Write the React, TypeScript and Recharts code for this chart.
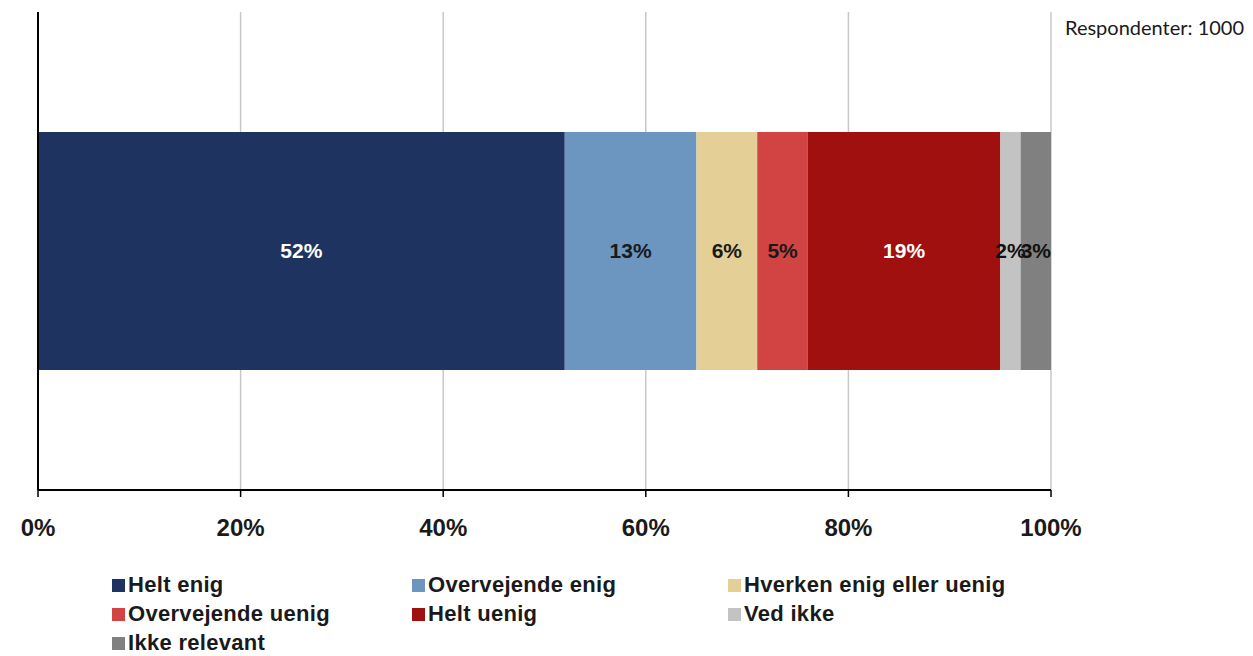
import React from "react";
import { BarChart, Bar, XAxis, YAxis, CartesianGrid, LabelList, ReferenceLine } from "recharts";

const categories = ["Svar"];
const seriesNames = [
  "Helt enig",
  "Overvejende enig",
  "Hverken enig eller uenig",
  "Overvejende uenig",
  "Helt uenig",
  "Ved ikke",
  "Ikke relevant",
];
const seriesValues = [52, 13, 6, 5, 19, 2, 3];
const xTicks = [0, 20, 40, 60, 80, 100];
const respondents = 1000;

const seriesColors = ["#1f3360", "#6c95c0", "#e4d096", "#d24343", "#a0100e", "#c3c3c3", "#808080"];
const labelColors = ["#ffffff", "#1a1a1a", "#1a1a1a", "#1a1a1a", "#ffffff", "#111111", "#111111"];

const data = categories.map((name) => {
  const row: Record<string, string | number> = { name };
  seriesNames.forEach((s, i) => (row[s] = seriesValues[i]));
  return row;
});

const FONT = "'Liberation Sans', Arial, sans-serif";

const XTick = (props: any) => {
  const { x, y, payload } = props;
  return (
    <text
      x={x}
      y={y + 37}
      textAnchor="middle"
      fontFamily={FONT}
      fontWeight="bold"
      fontSize={24}
      fill="#1a1a1a"
    >
      {payload.value}%
    </text>
  );
};

// grid lines at every tick except 0, where the black axis sits
const gridX = ({ xAxis, offset }: any) =>
  xTicks.slice(1).map((t) =>
    xAxis && typeof xAxis.scale === "function" ? xAxis.scale(t) : offset.left + (offset.width * t) / 100
  );

export default function App() {
  return (
    <div style={{ position: "absolute", left: 0, top: 0, width: 1253, height: 656, background: "#fff" }}>
      <BarChart
        width={1253}
        height={656}
        layout="vertical"
        data={data}
        margin={{ top: 12, right: 202, left: 38, bottom: 126 }}
      >
        <CartesianGrid
          horizontal={false}
          stroke="#c8c8c8"
          strokeWidth={1.5}
          verticalCoordinatesGenerator={gridX}
        />
        <XAxis
          type="number"
          domain={[0, 100]}
          ticks={xTicks}
          height={40}
          interval={0}
          axisLine={{ stroke: "#000", strokeWidth: 2 }}
          tickLine={{ stroke: "#000", strokeWidth: 1.5 }}
          tickSize={7}
          tick={<XTick />}
        />
        <YAxis type="category" dataKey="name" width={0} hide />
        {seriesNames.map((s, i) => (
          <Bar key={s} dataKey={s} stackId="a" fill={seriesColors[i]} barSize={238} isAnimationActive={false}>
            <LabelList
              dataKey={s}
              position="center"
              formatter={(v: any) => `${v}%`}
              fill={labelColors[i]}
              fontSize={21}
              fontWeight="bold"
              fontFamily={FONT}
            />
          </Bar>
        ))}
        <ReferenceLine x={0} stroke="#000" strokeWidth={2} />
      </BarChart>
      <div
        style={{
          position: "absolute",
          left: 1065,
          top: 15,
          fontFamily: "Lato, sans-serif",
          fontSize: 20,
          color: "#1a1a1a",
          whiteSpace: "nowrap",
        }}
      >
        Respondenter: {respondents}
      </div>
      <div
        style={{
          position: "absolute",
          left: 112,
          top: 572,
          display: "grid",
          gridTemplateColumns: "300px 316px 320px",
          rowGap: 3,
          fontFamily: FONT,
          fontWeight: "bold",
          fontSize: 22,
          color: "#1a1a1a",
        }}
      >
        {seriesNames.map((s, i) => (
          <div key={s} style={{ display: "flex", alignItems: "center", height: 26, whiteSpace: "nowrap" }}>
            <span
              style={{
                display: "inline-block",
                width: 13,
                height: 13,
                background: seriesColors[i],
                marginRight: 3,
              }}
            />
            <span style={{ letterSpacing: 0.3 }}>{s}</span>
          </div>
        ))}
      </div>
    </div>
  );
}
